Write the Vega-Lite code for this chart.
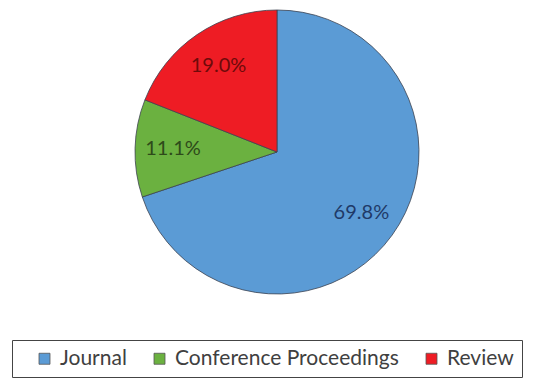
{
  "$schema": "https://vega.github.io/schema/vega-lite/v6.json",
  "width": 514,
  "height": 304,
  "autosize": {"type": "none"},
  "padding": {"left": 20, "top": 0, "right": 0, "bottom": 74},
  "background": "white",
  "config": {"view": {"stroke": null}},
  "data": {
    "values": [
      {"type": "Journal", "pct": 69.8, "label": "69.8%", "ord": 1},
      {"type": "Conference Proceedings", "pct": 11.1, "label": "11.1%", "ord": 2},
      {"type": "Review", "pct": 19.0, "label": "19.0%", "ord": 3}
    ]
  },
  "encoding": {
    "theta": {"field": "pct", "type": "quantitative", "stack": true},
    "order": {"field": "ord", "type": "quantitative"}
  },
  "layer": [
    {
      "mark": {"type": "arc", "outerRadius": 142, "stroke": "#3c4350", "strokeWidth": 0.8},
      "encoding": {
        "color": {
          "field": "type",
          "type": "nominal",
          "sort": ["Journal", "Conference Proceedings", "Review"],
          "scale": {
            "domain": ["Journal", "Conference Proceedings", "Review"],
            "range": ["#5B9BD5", "#6BB140", "#EE1C24"]
          },
          "legend": {
            "title": " ",
            "titleOrient": "left",
            "titlePadding": 14,
            "titleFontSize": 10,
            "orient": "none",
            "direction": "horizontal",
            "legendX": -8,
            "legendY": 340,
            "symbolType": "square",
            "symbolSize": 121,
            "symbolStrokeColor": "#555555",
            "symbolStrokeWidth": 0.8,
            "symbolOpacity": 1,
            "labelFont": "Lato",
            "labelFontSize": 21,
            "labelLimit": 0,
            "labelColor": "#404040",
            "labelOffset": 5,
            "columnPadding": 22,
            "padding": 8,
            "strokeColor": "#444444",
            "fillColor": "white"
          }
        }
      }
    },
    {
      "mark": {"type": "text", "radius": 104, "font": "Lato", "fontSize": 20},
      "encoding": {
        "text": {"field": "label"},
        "color": {
          "field": "type",
          "type": "nominal",
          "scale": {
            "domain": ["Journal", "Conference Proceedings", "Review"],
            "range": ["#1F3A68", "#2E4A1A", "#6E0A0A"]
          },
          "legend": null
        }
      }
    }
  ],
  "resolve": {"scale": {"color": "independent"}}
}
